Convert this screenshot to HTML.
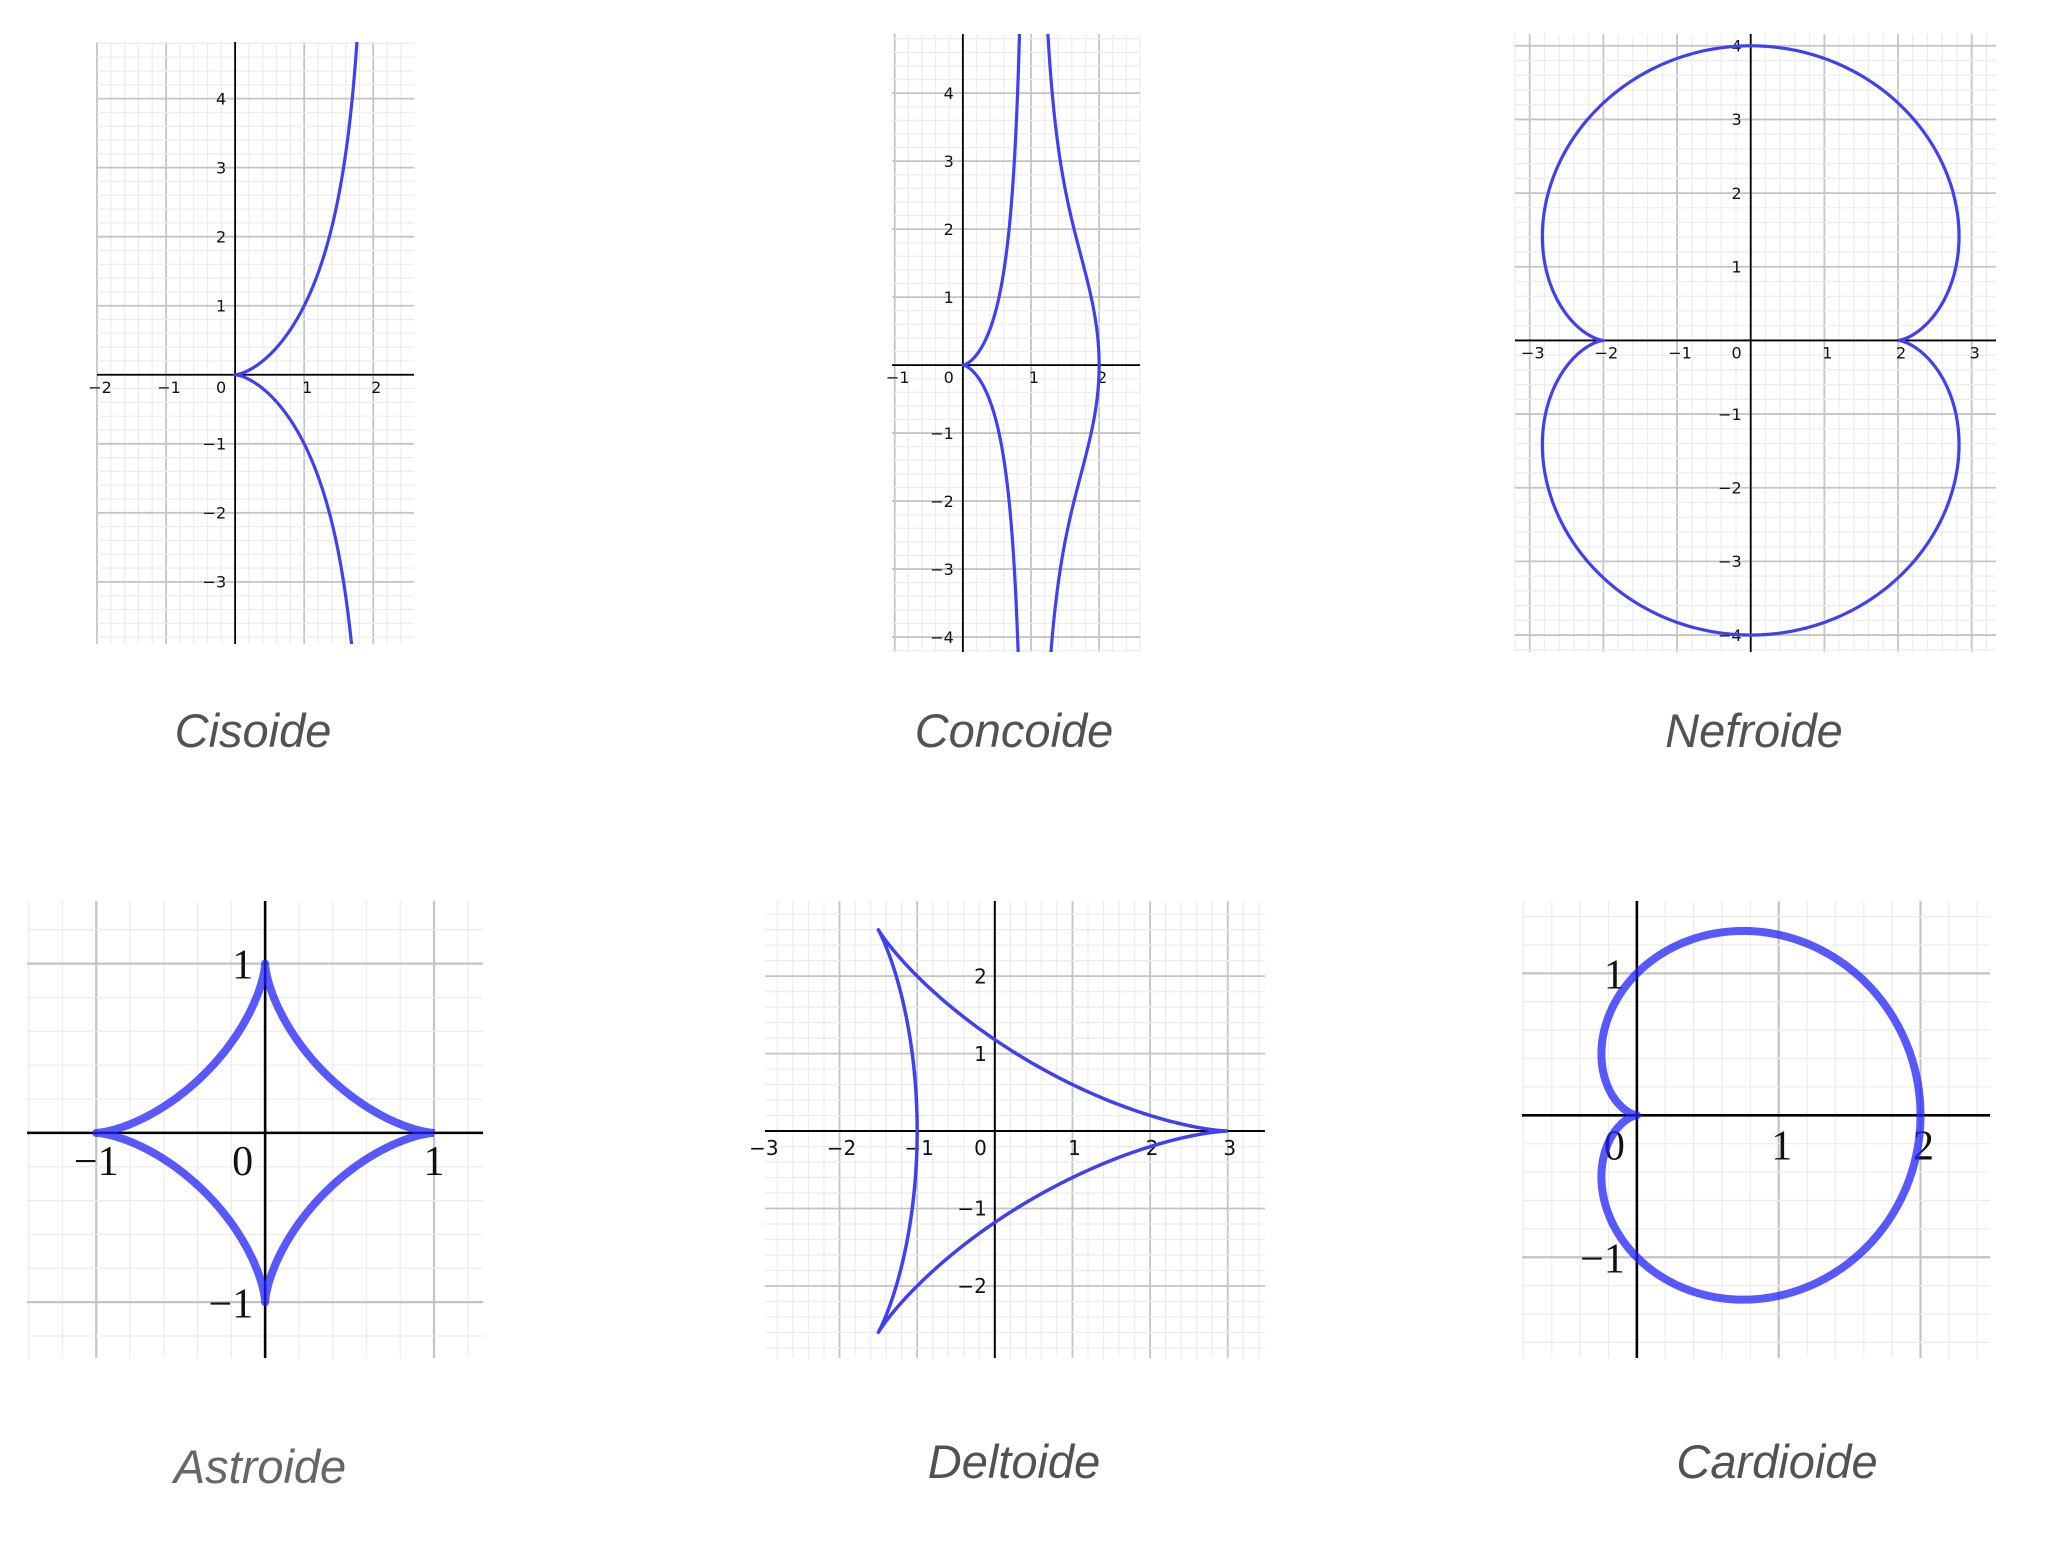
<!DOCTYPE html>
<html><head><meta charset="utf-8">
<style>
html,body{margin:0;padding:0;background:#fff;width:2050px;height:1554px;overflow:hidden;}
svg{display:block;}
.cap{font-family:"Liberation Sans",sans-serif;font-style:italic;font-size:47px;fill:#525252;}
.tk{font-family:"DejaVu Sans","Liberation Sans",sans-serif;fill:#111;}
.tkb{font-family:"Liberation Serif",serif;fill:#111;}
</style></head>
<body>
<svg id="root" width="2050" height="1554" viewBox="0 0 2050 1554" xmlns="http://www.w3.org/2000/svg">
<text class="cap" x="253" y="747" text-anchor="middle">Cisoide</text>
<text class="cap" x="1014" y="747" text-anchor="middle">Concoide</text>
<text class="cap" x="1754" y="747" text-anchor="middle">Nefroide</text>
<text class="cap" x="260" y="1483" text-anchor="middle" style="fill:#666">Astroide</text>
<text class="cap" x="1014" y="1478" text-anchor="middle">Deltoide</text>
<text class="cap" x="1777" y="1478" text-anchor="middle">Cardioide</text>
</svg>
<script>
// ---- data arrays ----
const cisoideXRange=[-2,2.59], cisoideYRange=[-3.9,4.82];
const cisoideXTicks=[-2,-1,1,2], cisoideYTicks=[-3,-2,-1,1,2,3,4];
const cisoideA=[1];
const concoideXRange=[-1.04,2.6], concoideYRange=[-4.22,4.87];
const concoideXTicks=[-1,1,2], concoideYTicks=[-4,-3,-2,-1,1,2,3,4];
const concoideAB=[1,1];
const nefroideXRange=[-3.2,3.33], nefroideYRange=[-4.23,4.16];
const nefroideXTicks=[-3,-2,-1,1,2,3], nefroideYTicks=[-4,-3,-2,-1,1,2,3,4];
const nefroideA=[1];
const astroideXRange=[-1.41,1.29], astroideYRange=[-1.33,1.37];
const astroideXTicks=[-1,1], astroideYTicks=[-1,1];
const astroideA=[1];
const deltoideXRange=[-2.96,3.48], deltoideYRange=[-2.93,2.97];
const deltoideXTicks=[-3,-2,-1,1,2,3], deltoideYTicks=[-2,-1,1,2];
const deltoideA=[1];
const cardioideXRange=[-0.81,2.49], cardioideYRange=[-1.71,1.51];
const cardioideXTicks=[1,2], cardioideYTicks=[-1,1];
const cardioideA=[1];

const NS="http://www.w3.org/2000/svg";
const root=document.getElementById('root');
function el(tag,attrs,parent){const e=document.createElementNS(NS,tag);for(const k in attrs)e.setAttribute(k,attrs[k]);(parent||root).appendChild(e);return e;}
function lbl(v){return v<0?'\u2212'+Math.abs(v):String(v);}

function plot(name,box,xr,yr,xt,yt,curves,opt){
  const [L,T,R,B]=box;
  const X=v=>L+(v-xr[0])/(xr[1]-xr[0])*(R-L);
  const Y=v=>B-(v-yr[0])/(yr[1]-yr[0])*(B-T);
  const g=el('g',{});
  
  
  const cp=el('clipPath',{id:name+'-clip'},g);
  el('rect',{x:L,y:T,width:R-L,height:B-T},cp);
  const gg=el('g',{},g);
  
  
  for(let i=Math.ceil(xr[0]*5);i<=Math.floor(xr[1]*5);i++){
    const major=i%5===0;
    el('line',{x1:X(i/5),x2:X(i/5),y1:T,y2:B,stroke:major?'#c4c4c4':'#ececec','stroke-width':major?opt.gmw:1.2},gg);
  }
  for(let i=Math.ceil(yr[0]*5);i<=Math.floor(yr[1]*5);i++){
    const major=i%5===0;
    el('line',{x1:L,x2:R,y1:Y(i/5),y2:Y(i/5),stroke:major?'#c4c4c4':'#ececec','stroke-width':major?opt.gmw:1.2},gg);
  }
  const xa=el('line',{x1:L,x2:R,y1:Y(0),y2:Y(0),stroke:'#000','stroke-width':opt.aw},g);
  
  
  const ya=el('line',{x1:X(0),x2:X(0),y1:T,y2:B,stroke:'#000','stroke-width':opt.aw},g);
  
  
  const cls=opt.serif?'tkb':'tk';
  xt.forEach(v=>{
    const t=el('text',{x:X(v)+opt.xdx,y:Y(0)+opt.xdy,'text-anchor':'middle','font-size':opt.fs,class:cls},g);
    t.textContent=lbl(v);
    
    
  });
  yt.forEach(v=>{
    const t=el('text',{x:X(0)-opt.ydx,y:Y(v)+opt.fs*0.36,'text-anchor':'end','font-size':opt.fs,class:cls},g);
    t.textContent=lbl(v);
    
    
  });
  const z=el('text',{x:X(0)-opt.ydx,y:Y(0)+opt.xdy,'text-anchor':'end','font-size':opt.fs,class:cls},g);
  z.textContent='0';
  
  
  curves.forEach((pts,i)=>{
    const d=pts.map((p,j)=>(j?'L':'M')+X(p[0]).toFixed(2)+' '+Y(p[1]).toFixed(2)).join('');
    const c=el('path',{d:d,fill:'none',stroke:opt.col,'stroke-width':opt.lw,'stroke-opacity':opt.op,'stroke-linejoin':'round','clip-path':'url(#'+name+'-clip)'},g);
    
    
  });
}
function sample(f,t0,t1,n){const a=[];for(let i=0;i<=n;i++){const t=t0+(t1-t0)*i/n;a.push(f(t));}return a;}

const thin={gmw:1.8,aw:1.8,fs:16,xdx:3,xdy:18,ydx:9,col:'#4040f0',lw:3.2,op:1,serif:false};
const ca=cisoideA[0];
plot('cisoide',[97,42,414,644],cisoideXRange,cisoideYRange,cisoideXTicks,cisoideYTicks,
 [sample(t=>[2*ca*Math.sin(t)**2,2*ca*Math.sin(t)**3/Math.cos(t)],-1.5,1.5,600)],thin);
const [ka,kb]=concoideAB;
plot('concoide',[892,34,1140,652],concoideXRange,concoideYRange,concoideXTicks,concoideYTicks,
 [sample(t=>[ka+kb*Math.cos(t),ka*Math.tan(t)+kb*Math.sin(t)],-1.5,1.5,600),
  sample(t=>[ka-kb*Math.cos(t),ka*Math.tan(t)-kb*Math.sin(t)],-1.5,1.5,600)],thin);
const na=nefroideA[0];
plot('nefroide',[1515,34,1996,652],nefroideXRange,nefroideYRange,nefroideXTicks,nefroideYTicks,
 [sample(t=>[na*(3*Math.cos(t)-Math.cos(3*t)),na*(3*Math.sin(t)-Math.sin(3*t))],0,2*Math.PI,600)],thin);
const aa=astroideA[0];
plot('astroide',[27,901,483,1358],astroideXRange,astroideYRange,astroideXTicks,astroideYTicks,
 [sample(t=>[aa*Math.cos(t)**3,aa*Math.sin(t)**3],0,2*Math.PI,600)],
 {gmw:2.2,aw:2.6,fs:42,xdx:0,xdy:42,ydx:12,col:'#2020ff',lw:8,op:0.75,serif:true});
const da=deltoideA[0];
plot('deltoide',[765,901,1265,1358],deltoideXRange,deltoideYRange,deltoideXTicks,deltoideYTicks,
 [sample(t=>[da*(2*Math.cos(t)+Math.cos(2*t)),da*(2*Math.sin(t)-Math.sin(2*t))],0,2*Math.PI,600)],
 {gmw:1.8,aw:2,fs:20,xdx:2,xdy:24,ydx:8,col:'#4040f0',lw:3.5,op:1,serif:false});
const cda=cardioideA[0];
plot('cardioide',[1522,901,1990,1358],cardioideXRange,cardioideYRange,cardioideXTicks,cardioideYTicks,
 [sample(t=>{const r=cda*(1+Math.cos(t));return [r*Math.cos(t),r*Math.sin(t)];},0,2*Math.PI,600)],
 {gmw:2.2,aw:2.6,fs:42,xdx:3,xdy:44,ydx:12,col:'#2020ff',lw:8,op:0.75,serif:true});
</script>
</body></html>
